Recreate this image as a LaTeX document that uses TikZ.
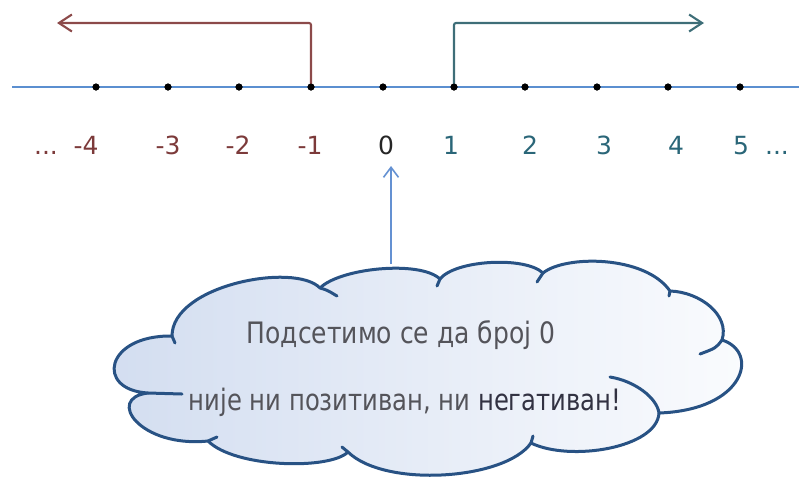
\documentclass[tikz,border=0pt]{standalone}
\usepackage{fontspec}
\setmainfont{DejaVu Sans}
\usetikzlibrary{arrows.meta}

\definecolor{negcol}{RGB}{124,58,58}
\definecolor{negline}{RGB}{140,74,74}
\definecolor{poscol}{RGB}{42,102,120}
\definecolor{posline}{RGB}{62,110,120}
\definecolor{axiscol}{RGB}{91,143,208}
\definecolor{pointer}{RGB}{100,145,210}
\definecolor{cloudedge}{RGB}{40,82,132}
\definecolor{cloudleft}{RGB}{210,221,240}
\definecolor{cloudright}{RGB}{251,252,254}
\definecolor{txtgray}{RGB}{84,84,90}
\definecolor{txtdark}{RGB}{50,50,66}

\tikzset{
  numlabel/.style={anchor=base, inner sep=0pt, font=\fontsize{25}{29}\selectfont},
  tick/.style={circle, fill=black, inner sep=0pt, minimum size=7pt},
  rayneg/.style={draw=negline, line width=2.1pt, rounded corners=2pt,
    -{Straight Barb[length=13pt,width=17pt,line width=2.1pt]}},
  raypos/.style={draw=posline, line width=2.1pt, rounded corners=2pt,
    -{Straight Barb[length=13pt,width=17pt,line width=2.1pt]}},
  cloudline/.style={draw=cloudedge, line width=3pt, line cap=round, line join=round},
  cloudtext/.style={anchor=base, inner sep=0pt, text=txtgray, font=\fontsize{25}{30}\selectfont},
}

\begin{document}
\begin{tikzpicture}[x=1pt, y=-1pt]
\useasboundingbox (0,0) rectangle (799,480);

% number line
\coordinate (axl) at (12,87);
\coordinate (axr) at (799,87);
\draw[axiscol, line width=2pt] (axl) -- (axr);

% points on the line
\foreach \n/\x in {m4/96, m3/168, m2/239, m1/311, z/383, p1/454, p2/525, p3/597, p4/668, p5/740}
  \node[tick] (d\n) at (\x,87) {};

% rays for negative and positive numbers
\coordinate (negend) at (57,23);
\coordinate (posend) at (704,23);
\draw[rayneg] (dm1.center) |- (negend);
\draw[raypos] (dp1.center) |- (posend);
\foreach \n in {m4, m3, m2, m1, z, p1, p2, p3, p4, p5}
  \node[tick] at (d\n) {};

% labels
\node[numlabel, text=negcol] (ldl) at (46,154) {...};
\node[numlabel, text=negcol] (lm4) at (86,154) {-4};
\node[numlabel, text=negcol] (lm3) at (168,154) {-3};
\node[numlabel, text=negcol] (lm2) at (238,154) {-2};
\node[numlabel, text=negcol] (lm1) at (310,154) {-1};
\node[numlabel, text=black!85] (lz) at (386,154) {0};
\node[numlabel, text=poscol] (lp1) at (451,154) {1};
\node[numlabel, text=poscol] (lp2) at (530,154) {2};
\node[numlabel, text=poscol] (lp3) at (604,154) {3};
\node[numlabel, text=poscol] (lp4) at (676,154) {4};
\node[numlabel, text=poscol] (lp5) at (741,154) {5};
\node[numlabel, text=poscol] (ldr) at (777,154) {...};

% cloud outline
\path[cloudline, left color=cloudleft, right color=cloudright]
  (172,336) .. controls (172,285) and (295,262) .. (320,288)
  .. controls (340,268) and (420,260) .. (440,279)
  .. controls (455,260) and (525,256) .. (543,273)
  .. controls (565,255) and (645,255) .. (670,291)
  .. controls (700,292) and (730,315) .. (722,340)
  .. controls (760,352) and (745,410) .. (659,413)
  .. controls (657,448) and (570,462) .. (531,443)
  .. controls (505,480) and (385,488) .. (348,452)
  .. controls (330,470) and (235,468) .. (208,441)
  .. controls (140,448) and (105,398) .. (148,393)
  .. controls (95,390) and (105,335) .. (172,336) -- cycle;

% inner strokes of the cloud
\draw[cloudline] (172,336) -- (175,343);
\draw[cloudline] (320,288) .. controls (327,290) .. (337,296);
\draw[cloudline] (440,279) -- (437,286);
\draw[cloudline] (543,273) -- (537,282);
\draw[cloudline] (670,291) -- (669,296);
\draw[cloudline] (722,340) .. controls (716,348) .. (700,354);
\draw[cloudline] (659,413) .. controls (657,398) and (635,381) .. (610,377);
\draw[cloudline] (531,443) -- (533,436);
\draw[cloudline] (348,452) -- (342,447);
\draw[cloudline] (208,441) -- (217,437);
\draw[cloudline] (148,393) -- (182,394);

% cloud text, set slightly tall
\node[cloudtext] (t1) at (401,343) {\scalebox{1.0}[1.18]{Подсетимо се да број 0}};
\node[cloudtext] (t2) at (405,410) {\scalebox{0.97}[1.18]{није ни позитиван, ни \textcolor{txtdark}{негативан!}}};

% pointer from the cloud to zero
\coordinate (cloudtop) at (391,264);
\coordinate (zerotip) at (391,166);
\draw[pointer, line width=1.6pt, -{Straight Barb[length=10pt,width=15pt,line width=1.6pt]}] (cloudtop) -- (zerotip);
\end{tikzpicture}
\end{document}
